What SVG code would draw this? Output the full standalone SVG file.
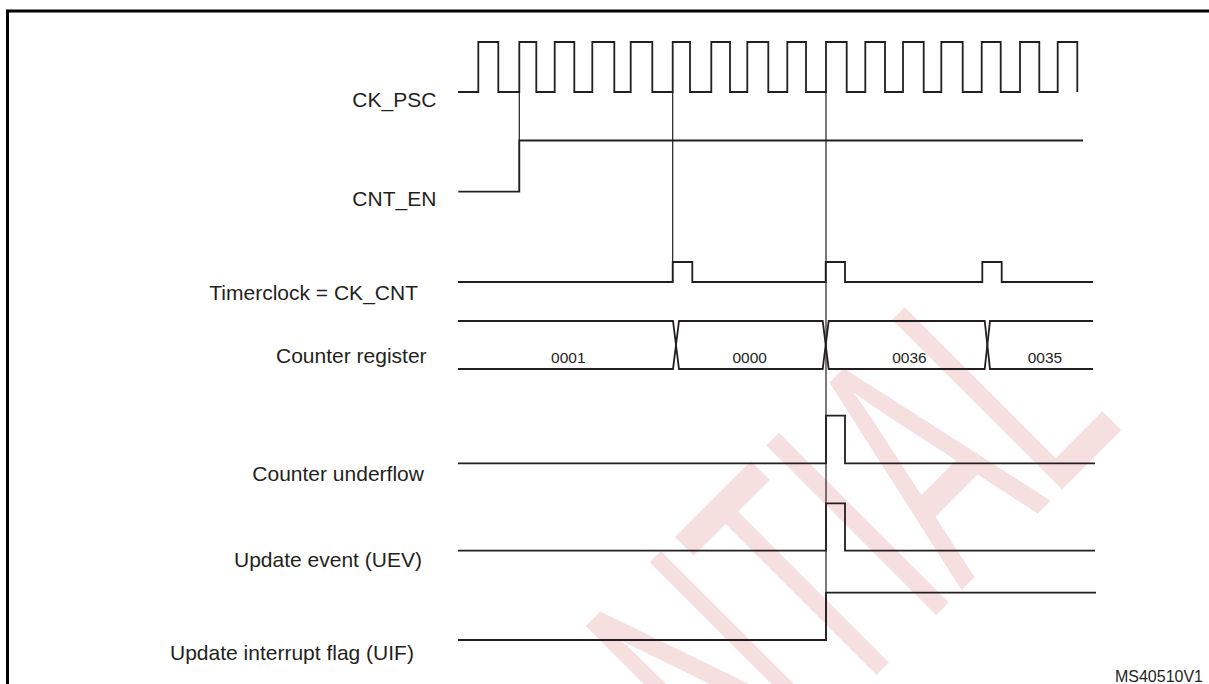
<svg xmlns="http://www.w3.org/2000/svg" width="1209" height="684" viewBox="0 0 1209 684">
  <style>
    .wave { fill: none; stroke: #231f20; stroke-width: 1.8; stroke-linejoin: miter; }
    .guide { fill: none; stroke: #231f20; stroke-width: 1.2; }
    .lbl { font-family: "Liberation Sans", Arial, sans-serif; font-size: 21px; fill: #231f20; }
    .val { font-family: "Liberation Sans", Arial, sans-serif; font-size: 15.5px; fill: #231f20; text-anchor: middle; }
    .ref { font-family: "Liberation Sans", Arial, sans-serif; font-size: 16px; fill: #231f20; text-anchor: end; }
    .wm { font-family: "Liberation Sans", Arial, sans-serif; font-size: 349px; fill: #f6dfdf; text-anchor: end; }
  </style>
  <rect x="0" y="0" width="1209" height="684" fill="#ffffff"/>
  <g id="watermark">
    <text class="wm" transform="translate(1125.7,425.7) rotate(-45) scale(0.545,1)" x="0" y="0">NTIAL</text>
  </g>
  <g id="frame">
    <path d="M7.5,684 V11 H1209" fill="none" stroke="#000000" stroke-width="3"/>
  </g>
  <g id="connectors">
    <path class="guide" d="M519.3,92 V191.7"/>
    <path class="guide" d="M672.7,92 V282"/>
    <path class="guide" d="M826,92 V640"/>
  </g>
  <g id="ck_psc">
    <text class="lbl" x="352.3" y="106.5">CK_PSC</text>
    <path class="wave" d="M458,92 H478.3 V42 H498.3 V92 H519.3 V42 H536.3 V92 H554.7 V42 H574.3 V92 H592.3 V42 H614.3 V92 H630.7 V42 H652.3 V92 H672.7 V42 H690 V92 H711.3 V42 H730 V92 H747.3 V42 H768.3 V92 H787.3 V42 H806 V92 H826 V42 H846.7 V92 H865.3 V42 H885 V92 H903 V42 H923.7 V92 H941.3 V42 H962.7 V92 H981.7 V42 H1000.7 V92 H1020 V42 H1039.3 V92 H1057.7 V42 H1077.3 V92"/>
  </g>
  <g id="cnt_en">
    <text class="lbl" x="352.3" y="205.5">CNT_EN</text>
    <path class="wave" d="M458.3,191.7 H519.3 V140.5 H1083"/>
  </g>
  <g id="timerclock">
    <text class="lbl" x="209.3" y="300">Timerclock = CK_CNT</text>
    <path class="wave" d="M458,282 H672.7 V262 H692.3 V282 H825.7 V262 H845 V282 H982.3 V262 H1001.7 V282 H1093"/>
  </g>
  <g id="counter_register">
    <text class="lbl" x="276" y="363">Counter register</text>
    <path class="wave" d="M458,321 H673 L679,369 H822.7 L828.7,321 H984.7 L990,369 H1093"/>
    <path class="wave" d="M458,369 H673 L679,321 H822.7 L828.7,369 H984.7 L990,321 H1093"/>
    <text class="val" x="568.3" y="362.7">0001</text>
    <text class="val" x="749.7" y="362.7">0000</text>
    <text class="val" x="909.5" y="362.7">0036</text>
    <text class="val" x="1045" y="362.7">0035</text>
  </g>
  <g id="counter_underflow">
    <text class="lbl" x="252.3" y="481">Counter underflow</text>
    <path class="wave" d="M458,463.3 H826 V415.7 H845 V463.3 H1095"/>
  </g>
  <g id="update_event">
    <text class="lbl" x="234" y="567">Update event (UEV)</text>
    <path class="wave" d="M458,550.7 H826 V503.3 H845 V550.7 H1095"/>
  </g>
  <g id="uif">
    <text class="lbl" x="170" y="660">Update interrupt flag (UIF)</text>
    <path class="wave" d="M458,640 H826 V592.7 H1096"/>
  </g>
  <g id="ref">
    <text class="ref" x="1203" y="682">MS40510V1</text>
  </g>
</svg>
